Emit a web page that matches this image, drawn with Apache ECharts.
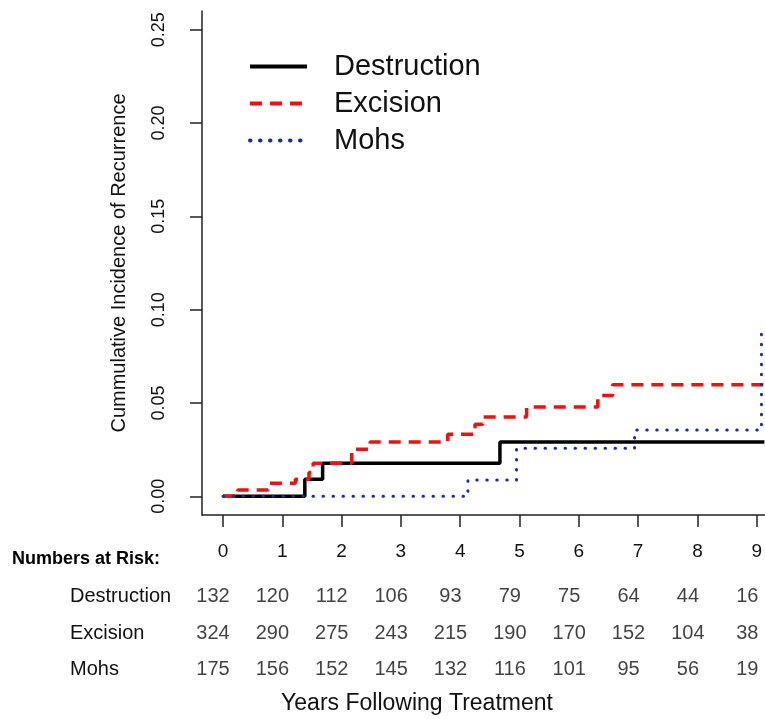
<!DOCTYPE html>
<html>
<head>
<meta charset="utf-8">
<script src="https://cdn.jsdelivr.net/npm/echarts@6/dist/echarts.min.js"></script>
<style>
html,body{margin:0;padding:0;background:#fff;}
#chart{width:765px;height:719px;}
</style>
</head>
<body>
<div id="chart"></div>
<script>
// ---- data ----
const years = [0, 1, 2, 3, 4, 5, 6, 7, 8, 9];
const yTicks = [0, 0.05, 0.10, 0.15, 0.20, 0.25];
const groups = ['Destruction', 'Excision', 'Mohs'];

const destructionT = [0, 1.38, 1.68, 4.67, 9.13];
const destructionV = [0, 0.0091, 0.0177, 0.0291, 0.0291];

const excisionT = [0, 0.25, 0.76, 1.22, 1.45, 1.52, 2.17, 2.48, 3.79, 4.25, 4.38, 5.12, 6.32, 6.57, 9.13];
const excisionV = [0, 0.0034, 0.0070, 0.0091, 0.0128, 0.0177, 0.0252, 0.0291, 0.0332, 0.0386, 0.0425, 0.0478, 0.0540, 0.0598, 0.0598];

const mohsT = [0, 4.13, 4.95, 6.94, 9.08, 9.13];
const mohsV = [0, 0.0087, 0.0257, 0.0355, 0.0894, 0.0894];

const riskDestruction = [132, 120, 112, 106, 93, 79, 75, 64, 44, 16];
const riskExcision = [324, 290, 275, 243, 215, 190, 170, 152, 104, 38];
const riskMohs = [175, 156, 152, 145, 132, 116, 101, 95, 56, 19];

// ---- chart ----
const FONT = '"Liberation Sans", Arial, sans-serif';
const X_MIN = -0.354, X_MAX = 9.13;
const zip = (t, v) => t.map((x, i) => [x, v[i]]);
const riskRow = (name, arr) => years.map((y, i) => [y, name, arr[i]]);

const chart = echarts.init(document.getElementById('chart'), null, {renderer: 'canvas'});
const riskLabel = {
  show: true, position: 'inside', offset: [-10, 0],
  formatter: p => String(p.value[2]),
  fontSize: 20, color: '#111', fontFamily: FONT
};

chart.setOption({
  animation: false,
  backgroundColor: '#fff',
  textStyle: {fontFamily: FONT},
  grid: [
    {left: 202, right: 0, top: 11, bottom: 204, containLabel: false},
    {left: 202, right: 0, top: 578, height: 110, containLabel: false}
  ],
  legend: {
    data: groups,
    orient: 'vertical',
    left: 248, top: 52, padding: 0,
    itemWidth: 57, itemHeight: 14, itemGap: 8,
    itemStyle: {color: 'rgba(0,0,0,0)', borderWidth: 0, opacity: 0},
    lineStyle: {width: 4},
    textStyle: {fontSize: 29, lineHeight: 29, color: '#111', fontFamily: FONT, padding: [0, 0, 0, 22]}
  },
  xAxis: [
    {
      type: 'value', gridIndex: 0, min: X_MIN, max: X_MAX,
      axisLine: {show: true, onZero: false, lineStyle: {color: '#222', width: 1.5}},
      axisTick: {show: true, length: 12, customValues: years, lineStyle: {color: '#222', width: 1.5}},
      axisLabel: {customValues: years, fontSize: 19, color: '#111', margin: 27, fontFamily: FONT,
                  formatter: v => String(v)},
      splitLine: {show: false}
    },
    {
      type: 'value', gridIndex: 1, min: X_MIN, max: X_MAX, show: false
    }
  ],
  yAxis: [
    {
      type: 'value', gridIndex: 0, min: -0.01, max: 0.26,
      name: 'Cummulative Incidence of Recurrence',
      nameLocation: 'middle', nameGap: 73,
      nameTextStyle: {fontSize: 20, color: '#111', fontFamily: FONT},
      axisLine: {show: true, onZero: false, lineStyle: {color: '#222', width: 1.5}},
      axisTick: {show: true, length: 12, customValues: yTicks, lineStyle: {color: '#222', width: 1.5}},
      axisLabel: {customValues: yTicks, rotate: 90, fontSize: 18, color: '#111', margin: 34, fontFamily: FONT,
                  formatter: v => v.toFixed(2)},
      splitLine: {show: false}
    },
    {
      type: 'category', gridIndex: 1, data: groups, inverse: true,
      axisLine: {show: false}, axisTick: {show: false}, splitLine: {show: false},
      axisLabel: {fontSize: 20, color: '#111', align: 'left', margin: 132, fontFamily: FONT}
    }
  ],
  graphic: [
    {type: 'text', left: 12, top: 550,
     style: {text: 'Numbers at Risk:', font: 'bold 18px ' + FONT, fill: '#000'}},
    {type: 'text', x: 417, y: 704,
     style: {text: 'Years Following Treatment', font: '23px ' + FONT, fill: '#111',
             textAlign: 'center', textVerticalAlign: 'middle'}}
  ],
  series: [
    {
      name: 'Destruction', type: 'line', step: 'end', xAxisIndex: 0, yAxisIndex: 0,
      data: zip(destructionT, destructionV), symbol: 'none', showSymbol: false,
      itemStyle: {color: '#000'},
      lineStyle: {color: '#000', width: 3.5}, z: 3
    },
    {
      name: 'Excision', type: 'line', step: 'end', xAxisIndex: 0, yAxisIndex: 0,
      data: zip(excisionT, excisionV), symbol: 'none', showSymbol: false,
      itemStyle: {color: '#ee1111'},
      lineStyle: {color: '#ee1111', width: 3.5, type: [12, 8]}, z: 4
    },
    {
      name: 'Mohs', type: 'line', step: 'end', xAxisIndex: 0, yAxisIndex: 0,
      data: zip(mohsT, mohsV), symbol: 'none', showSymbol: false,
      itemStyle: {color: '#1b2c9e'},
      lineStyle: {color: '#1b2c9e', width: 3, type: [0.5, 9.5], cap: 'round'}, z: 5
    },
    {name: 'riskD', type: 'scatter', xAxisIndex: 1, yAxisIndex: 1, symbolSize: 0.1,
     itemStyle: {color: 'rgba(0,0,0,0)'}, data: riskRow('Destruction', riskDestruction), label: riskLabel},
    {name: 'riskE', type: 'scatter', xAxisIndex: 1, yAxisIndex: 1, symbolSize: 0.1,
     itemStyle: {color: 'rgba(0,0,0,0)'}, data: riskRow('Excision', riskExcision), label: riskLabel},
    {name: 'riskM', type: 'scatter', xAxisIndex: 1, yAxisIndex: 1, symbolSize: 0.1,
     itemStyle: {color: 'rgba(0,0,0,0)'}, data: riskRow('Mohs', riskMohs), label: riskLabel}
  ]
});
</script>
</body>
</html>
